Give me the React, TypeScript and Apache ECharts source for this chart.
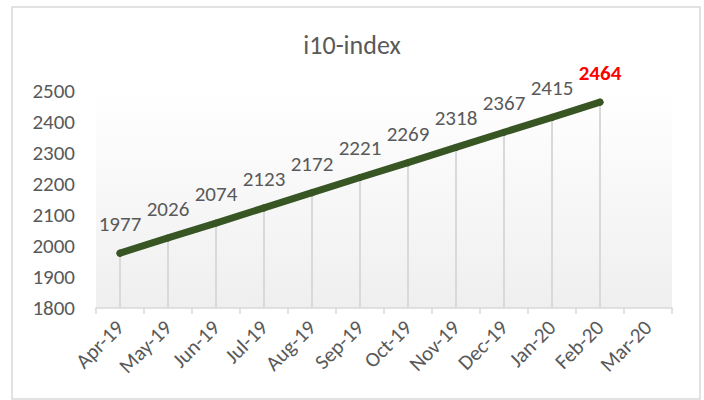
import React, { useEffect, useRef } from "react";
import * as echarts from "echarts";

const title = "i10-index";
const categories = ["Apr-19", "May-19", "Jun-19", "Jul-19", "Aug-19", "Sep-19", "Oct-19", "Nov-19", "Dec-19", "Jan-20", "Feb-20", "Mar-20"];
const values: (number | null)[] = [1977, 2026, 2074, 2123, 2172, 2221, 2269, 2318, 2367, 2415, 2464, null];
const highlightIndex = 10;
const yMin = 1800;
const yMax = 2500;
const yInterval = 100;

const FONT = "Carlito, Calibri, 'Open Sans', 'Noto Sans', sans-serif";

export default function App() {
  const ref = useRef<HTMLDivElement>(null);
  useEffect(() => {
    if (!ref.current) return;
    const chart = echarts.init(ref.current, undefined, { renderer: "svg" });
    const lineData = values.map((v, i) =>
      i === highlightIndex
        ? { value: v, label: { color: "#ff0000", fontWeight: "bold" } }
        : { value: v }
    );
    chart.setOption({
      animation: false,
      backgroundColor: "#ffffff",
      textStyle: { fontFamily: FONT },
      title: {
        text: title,
        left: "center",
        top: 27,
        textStyle: { color: "#595959", fontSize: 26, fontWeight: "normal", fontFamily: FONT },
      },
      graphic: [
        {
          type: "rect",
          shape: { x: 12, y: 7, width: 688, height: 392 },
          style: { fill: "none", stroke: "#d9d9d9", lineWidth: 1.5 },
          silent: true,
        },
      ],
      grid: {
        left: 96,
        right: 32,
        top: 91,
        bottom: 92,
        show: true,
        borderWidth: 0,
        backgroundColor: {
          type: "linear",
          x: 0,
          y: 0,
          x2: 0,
          y2: 1,
          colorStops: [
            { offset: 0, color: "#ffffff" },
            { offset: 1, color: "#efefef" },
          ],
        },
      },
      xAxis: {
        type: "category",
        data: categories,
        boundaryGap: true,
        axisLine: { lineStyle: { color: "#d9d9d9", width: 1.5 } },
        axisTick: { show: true, length: 6, lineStyle: { color: "#d9d9d9", width: 1.5 } },
        axisLabel: { rotate: 45, color: "#595959", fontSize: 21, margin: 16, interval: 0, fontFamily: FONT },
        splitLine: { show: false },
      },
      yAxis: {
        type: "value",
        min: yMin,
        max: yMax,
        interval: yInterval,
        axisLine: { show: false },
        axisTick: { show: false },
        splitLine: { show: false },
        axisLabel: {
          color: "#595959",
          fontSize: 21,
          margin: 21,
          fontFamily: FONT,
          formatter: (v: number) => String(v),
        },
      },
      series: [
        {
          type: "bar",
          data: values,
          barWidth: 2,
          itemStyle: { color: "#d9d9d9" },
          silent: true,
          z: 1,
        },
        {
          type: "line",
          data: lineData,
          symbol: "circle",
          symbolSize: 7,
          itemStyle: { color: "#375623" },
          lineStyle: { color: "#375623", width: 7, cap: "round" },
          label: {
            show: true,
            position: "top",
            distance: 15,
            color: "#595959",
            fontSize: 21,
            fontFamily: FONT,
          },
          z: 3,
        },
      ],
    });
    return () => chart.dispose();
  }, []);
  return (
    <div
      ref={ref}
      style={{ position: "fixed", left: 0, top: 0, width: 704, height: 400 }}
    />
  );
}
